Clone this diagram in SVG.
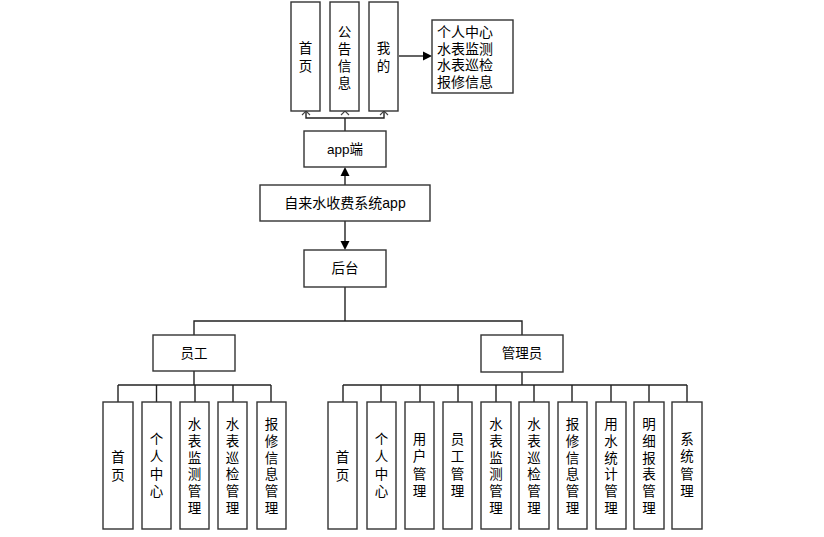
<svg xmlns="http://www.w3.org/2000/svg" width="824" height="537" viewBox="0 0 824 537">
<style>
.b{fill:#fff;stroke:#333;stroke-width:1.4}
.t{font-family:"Liberation Sans","Noto Sans CJK SC",sans-serif;font-size:13.5px;fill:#000;text-anchor:middle;dominant-baseline:central}
.l{fill:none;stroke:#222;stroke-width:1.4}
.o{fill:none;stroke:#444;stroke-width:1.1}
.a{fill:#000}
</style>
<rect width="824" height="537" fill="#fff"/>
<g id="connectors">
<polyline class="l" points="306,111 306,118 384,118 384,111"/>
<line class="l" x1="345" y1="118" x2="345" y2="131"/>
<path class="o" d="M302,115 L306,111 L310,115 M341,115 L345,111 L349,115 M380,115 L384,111 L388,115"/>
<line class="l" x1="399" y1="56" x2="424" y2="56"/>
<polygon class="a" points="432,56 423,51.5 423,60.5"/>
<line class="l" x1="345" y1="185" x2="345" y2="176"/>
<polygon class="a" points="345,167 340.5,176 349.5,176"/>
<line class="l" x1="345" y1="221" x2="345" y2="242"/>
<polygon class="a" points="345,250 340.5,241 349.5,241"/>
<line class="l" x1="345" y1="287" x2="345" y2="321"/>
<polyline class="l" points="194,335 194,321 522,321 522,335"/>
<line class="l" x1="194" y1="371" x2="194" y2="385"/>
<line class="l" x1="118" y1="385" x2="271" y2="385"/>
<path class="l" d="M118,385V402M156.5,385V402M195,385V402M233,385V402M271,385V402"/>
<line class="l" x1="522" y1="372" x2="522" y2="385"/>
<line class="l" x1="343" y1="385" x2="687" y2="385"/>
<path class="l" d="M343,385V402M381,385V402M420,385V402M458,385V402M496,385V402M534,385V402M572,385V402M611,385V402M649,385V402M687,385V402"/>
</g>
<g id="n-home"><rect class="b" x="291" y="2" width="29" height="109"/><text class="t"><tspan x="305.5" y="48">首</tspan><tspan x="305.5" y="66">页</tspan></text></g>
<g id="n-notice"><rect class="b" x="330" y="2" width="29" height="109"/><text class="t"><tspan x="344.5" y="32">公</tspan><tspan x="344.5" y="49">告</tspan><tspan x="344.5" y="66">信</tspan><tspan x="344.5" y="83">息</tspan></text></g>
<g id="n-mine"><rect class="b" x="369" y="2" width="29" height="109"/><text class="t"><tspan x="383.5" y="48">我</tspan><tspan x="383.5" y="66">的</tspan></text></g>
<g id="n-mine-list"><rect class="b" x="432" y="20" width="81" height="73"/><text class="t" style="text-anchor:start;font-size:14px"><tspan x="437" y="32">个人中心</tspan><tspan x="437" y="48.7">水表监测</tspan><tspan x="437" y="65.4">水表巡检</tspan><tspan x="437" y="82">报修信息</tspan></text></g>
<g id="n-app"><rect class="b" x="304" y="131" width="82" height="36"/><text class="t" x="345" y="149">app端</text></g>
<g id="n-root"><rect class="b" x="260" y="185" width="170" height="36"/><text class="t" x="345" y="203" style="font-size:14px">自来水收费系统app</text></g>
<g id="n-backend"><rect class="b" x="304" y="250" width="82" height="37"/><text class="t" x="345" y="268.5">后台</text></g>
<g id="n-staff"><rect class="b" x="153" y="335" width="82" height="36"/><text class="t" x="194" y="353">员工</text></g>
<g id="n-admin"><rect class="b" x="481" y="335" width="82" height="37"/><text class="t" x="522" y="353.5">管理员</text></g>
<g id="s-home"><rect class="b" x="103" y="402" width="30" height="127"/><text class="t"><tspan x="118" y="457">首</tspan><tspan x="118" y="475">页</tspan></text></g>
<g id="s-center"><rect class="b" x="142" y="402" width="29" height="127"/><text class="t"><tspan x="156.5" y="439">个</tspan><tspan x="156.5" y="456">人</tspan><tspan x="156.5" y="474">中</tspan><tspan x="156.5" y="491">心</tspan></text></g>
<g id="s-monitor"><rect class="b" x="180" y="402" width="29" height="127"/><text class="t"><tspan x="194.5" y="424">水</tspan><tspan x="194.5" y="441">表</tspan><tspan x="194.5" y="458">监</tspan><tspan x="194.5" y="474">测</tspan><tspan x="194.5" y="491">管</tspan><tspan x="194.5" y="508">理</tspan></text></g>
<g id="s-patrol"><rect class="b" x="218" y="402" width="29" height="127"/><text class="t"><tspan x="232.5" y="424">水</tspan><tspan x="232.5" y="441">表</tspan><tspan x="232.5" y="458">巡</tspan><tspan x="232.5" y="474">检</tspan><tspan x="232.5" y="491">管</tspan><tspan x="232.5" y="508">理</tspan></text></g>
<g id="s-repair"><rect class="b" x="257" y="402" width="29" height="127"/><text class="t"><tspan x="271.5" y="424">报</tspan><tspan x="271.5" y="441">修</tspan><tspan x="271.5" y="458">信</tspan><tspan x="271.5" y="474">息</tspan><tspan x="271.5" y="491">管</tspan><tspan x="271.5" y="508">理</tspan></text></g>
<g id="a-home"><rect class="b" x="328" y="402" width="29" height="127"/><text class="t"><tspan x="342.5" y="457">首</tspan><tspan x="342.5" y="475">页</tspan></text></g>
<g id="a-center"><rect class="b" x="367" y="402" width="29" height="127"/><text class="t"><tspan x="381.5" y="439">个</tspan><tspan x="381.5" y="456">人</tspan><tspan x="381.5" y="474">中</tspan><tspan x="381.5" y="491">心</tspan></text></g>
<g id="a-user"><rect class="b" x="405" y="402" width="29" height="127"/><text class="t"><tspan x="419.5" y="439">用</tspan><tspan x="419.5" y="456">户</tspan><tspan x="419.5" y="474">管</tspan><tspan x="419.5" y="491">理</tspan></text></g>
<g id="a-staff"><rect class="b" x="443" y="402" width="29" height="127"/><text class="t"><tspan x="457.5" y="439">员</tspan><tspan x="457.5" y="456">工</tspan><tspan x="457.5" y="474">管</tspan><tspan x="457.5" y="491">理</tspan></text></g>
<g id="a-monitor"><rect class="b" x="481" y="402" width="30" height="127"/><text class="t"><tspan x="496" y="424">水</tspan><tspan x="496" y="441">表</tspan><tspan x="496" y="458">监</tspan><tspan x="496" y="474">测</tspan><tspan x="496" y="491">管</tspan><tspan x="496" y="508">理</tspan></text></g>
<g id="a-patrol"><rect class="b" x="519" y="402" width="30" height="127"/><text class="t"><tspan x="534" y="424">水</tspan><tspan x="534" y="441">表</tspan><tspan x="534" y="458">巡</tspan><tspan x="534" y="474">检</tspan><tspan x="534" y="491">管</tspan><tspan x="534" y="508">理</tspan></text></g>
<g id="a-repair"><rect class="b" x="558" y="402" width="29" height="127"/><text class="t"><tspan x="572.5" y="424">报</tspan><tspan x="572.5" y="441">修</tspan><tspan x="572.5" y="458">信</tspan><tspan x="572.5" y="474">息</tspan><tspan x="572.5" y="491">管</tspan><tspan x="572.5" y="508">理</tspan></text></g>
<g id="a-usage"><rect class="b" x="596" y="402" width="30" height="127"/><text class="t"><tspan x="611" y="424">用</tspan><tspan x="611" y="441">水</tspan><tspan x="611" y="458">统</tspan><tspan x="611" y="474">计</tspan><tspan x="611" y="491">管</tspan><tspan x="611" y="508">理</tspan></text></g>
<g id="a-detail"><rect class="b" x="634" y="402" width="30" height="127"/><text class="t"><tspan x="649" y="424">明</tspan><tspan x="649" y="441">细</tspan><tspan x="649" y="458">报</tspan><tspan x="649" y="474">表</tspan><tspan x="649" y="491">管</tspan><tspan x="649" y="508">理</tspan></text></g>
<g id="a-system"><rect class="b" x="672" y="402" width="30" height="127"/><text class="t"><tspan x="687" y="439">系</tspan><tspan x="687" y="456">统</tspan><tspan x="687" y="474">管</tspan><tspan x="687" y="491">理</tspan></text></g>
</svg>
